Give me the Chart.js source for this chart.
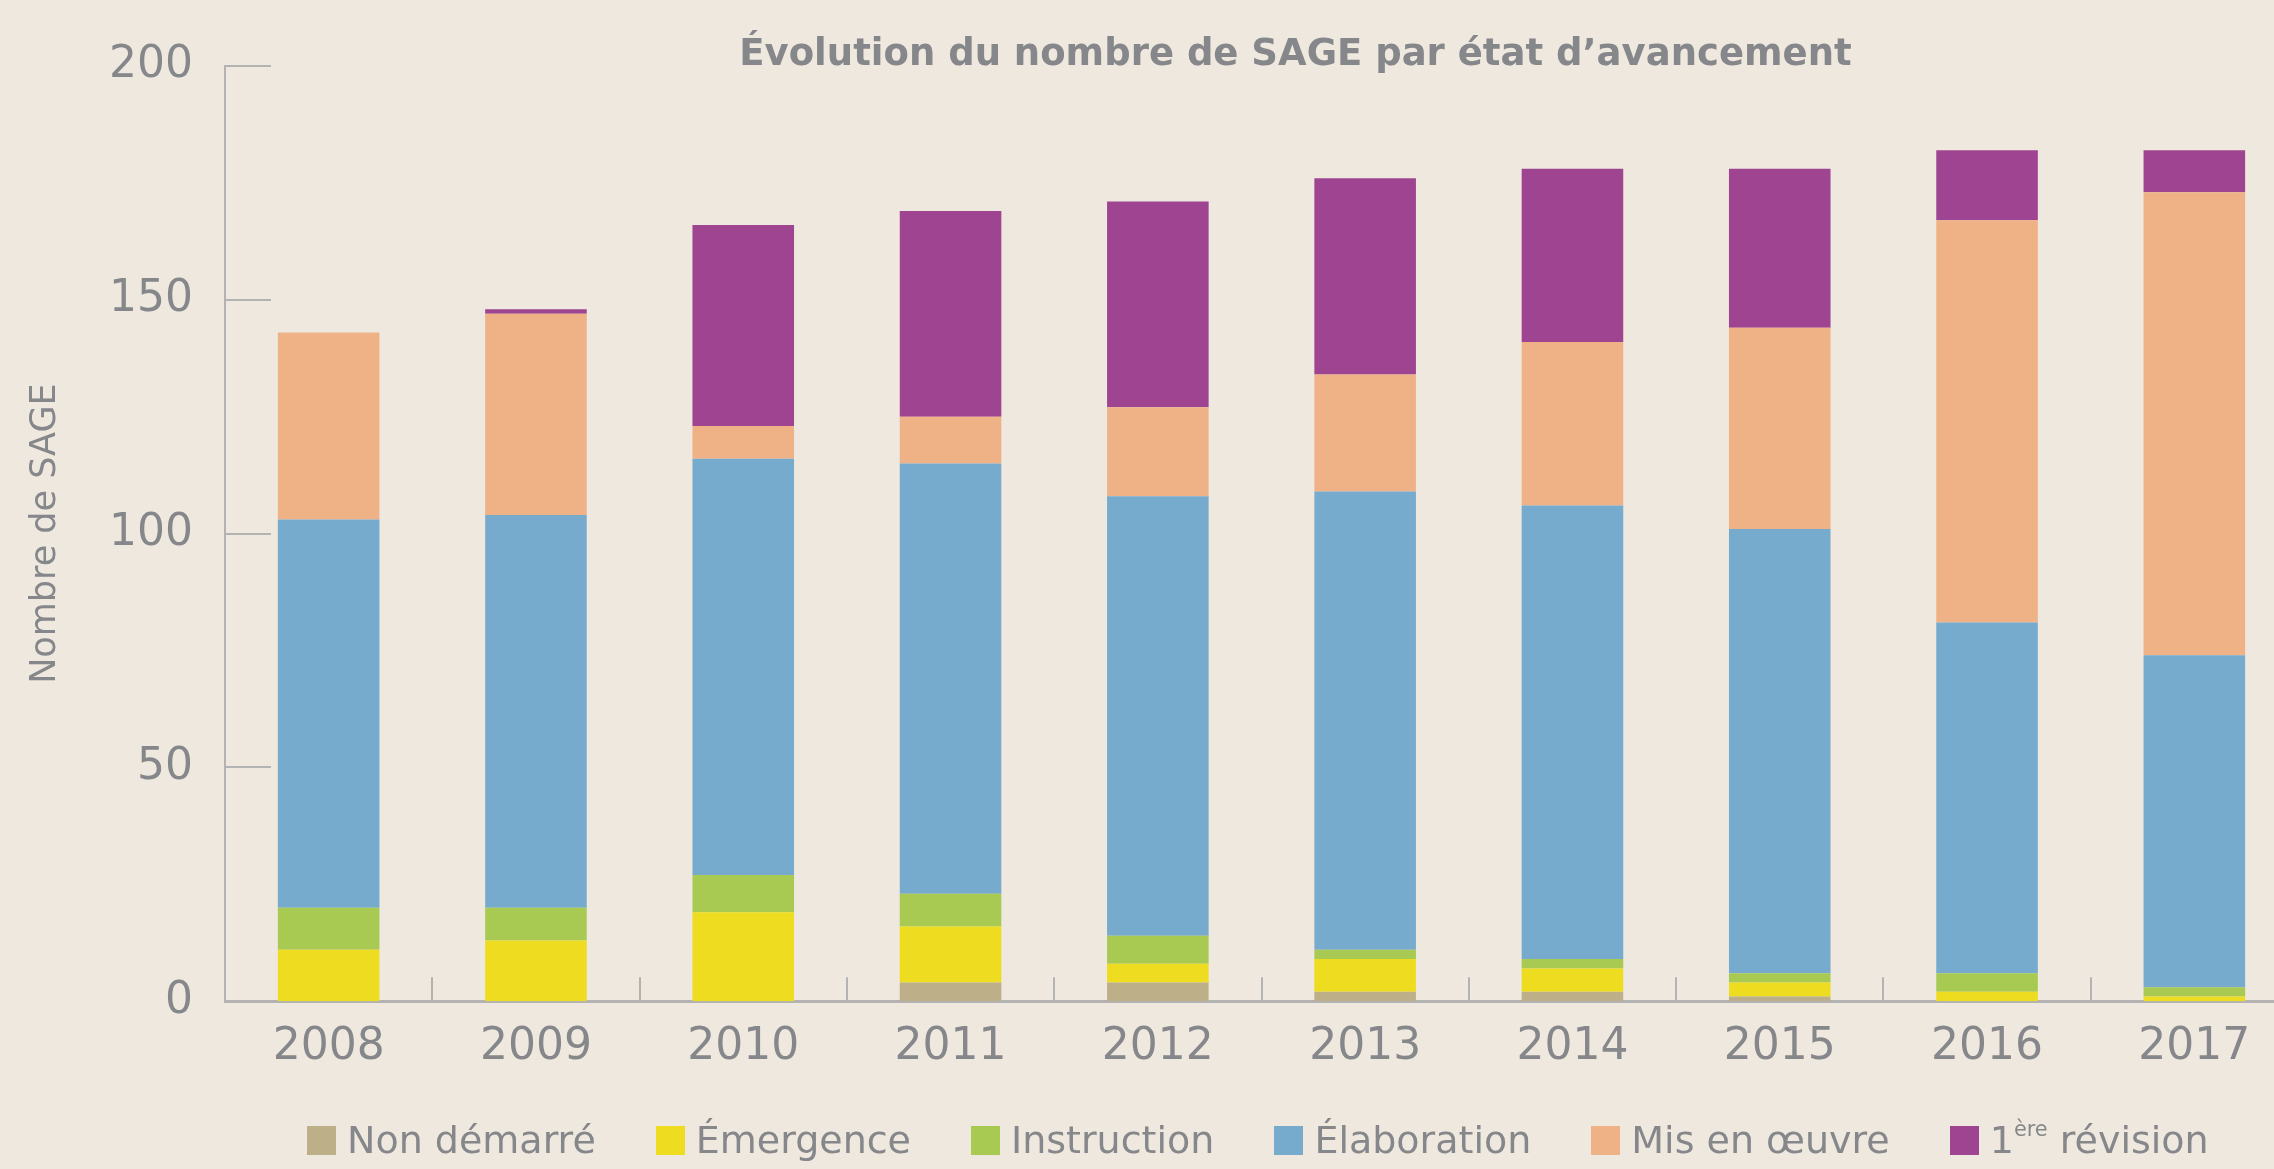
<!DOCTYPE html>
<html>
<head>
<meta charset="utf-8">
<script src="https://cdn.jsdelivr.net/npm/chart.js@4.4.1/dist/chart.umd.min.js"></script>
<style>
html, body { margin: 0; padding: 0; overflow: hidden; background: #efe8df; width: 2274px; height: 1169px; }
#wrap { position: relative; width: 2274px; height: 1169px; overflow: hidden; }
#chart { position: absolute; left: 0; top: 0; }
#legend { position: absolute; left: 307px; top: 1118px; display: flex; gap: 60px; font-family: "DejaVu Sans"; font-size: 38px; color: #85878a; white-space: nowrap; }
#legend .item { display: flex; align-items: center; }
#legend .box { width: 29px; height: 29px; margin-right: 11px; }
#legend sup { font-size: 55%; vertical-align: 0.8em; line-height: 0; }
</style>
</head>
<body>
<div id="wrap">
  <canvas id="chart" width="2300" height="1169"></canvas>
  <div id="legend"></div>
</div>
<script>
// categories
var years = ['2008', '2009', '2010', '2011', '2012', '2013', '2014', '2015', '2016', '2017'];

// number of SAGE per state, stacked bottom to top
var nonDemarre  = [0, 0, 0, 4, 4, 2, 2, 1, 0, 0];
var emergence   = [11, 13, 19, 12, 4, 7, 5, 3, 2, 1];
var instruction = [9, 7, 8, 7, 6, 2, 2, 2, 4, 2];
var elaboration = [83, 84, 89, 92, 94, 98, 97, 95, 75, 71];
var misEnOeuvre = [40, 43, 7, 10, 19, 25, 35, 43, 86, 99];
var revision    = [0, 1, 43, 44, 44, 42, 37, 34, 15, 9];

var seriesNames  = ['Non démarré', 'Émergence', 'Instruction', 'Élaboration', 'Mis en œuvre', '1ère révision'];
var seriesData   = [nonDemarre, emergence, instruction, elaboration, misEnOeuvre, revision];
var seriesColors = ['#bdb088', '#eedc20', '#a8ca52', '#76abce', '#efb287', '#9e4491'];

var yTicks = [0, 50, 100, 150, 200];

var chartTitle = 'Évolution du nombre de SAGE par état d’avancement';
var yTitle = 'Nombre de SAGE';

var textColor = '#85878a';
var axisColor = '#b3b3b3';

var datasets = seriesNames.map(function (name, i) {
    return {
        label: name,
        data: seriesData[i],
        backgroundColor: seriesColors[i],
        borderWidth: 0,
        barPercentage: 0.49,
        categoryPercentage: 1.0,
        stack: 'sage'
    };
});

// short inner tick marks + title
var decorations = {
    id: 'decorations',
    afterDraw: function (chart) {
        var ctx = chart.ctx;
        var area = chart.chartArea;
        var x = chart.scales.x;
        var y = chart.scales.y;
        ctx.save();
        ctx.strokeStyle = axisColor;
        ctx.lineWidth = 2;
        yTicks.forEach(function (v) {
            if (v === 0) return;
            var py = Math.round(y.getPixelForValue(v));
            ctx.beginPath();
            ctx.moveTo(area.left, py);
            ctx.lineTo(area.left + 46, py);
            ctx.stroke();
        });
        var step = x.getPixelForValue(1) - x.getPixelForValue(0);
        for (var i = 0; i < years.length; i++) {
            var px = Math.round(x.getPixelForValue(i) + step / 2);
            ctx.beginPath();
            ctx.moveTo(px, area.bottom);
            ctx.lineTo(px, area.bottom - 24);
            ctx.stroke();
        }
        ctx.fillStyle = textColor;
        ctx.font = 'bold 37px "DejaVu Sans"';
        ctx.textAlign = 'center';
        ctx.textBaseline = 'alphabetic';
        ctx.fillText(chartTitle, (area.left + area.right) / 2 + 34, 65);
        ctx.restore();
    }
};

var chart = new Chart(document.getElementById('chart'), {
    type: 'bar',
    data: {
        labels: years,
        datasets: datasets
    },
    options: {
        animation: false,
        responsive: false,
        devicePixelRatio: 1,
        layout: {
            padding: { top: 66, right: 2, bottom: 75, left: 0 }
        },
        plugins: {
            legend: { display: false },
            title: { display: false },
            tooltip: { enabled: false }
        },
        scales: {
            x: {
                stacked: true,
                grid: { display: false, drawTicks: false },
                border: { display: true, color: axisColor, width: 3 },
                ticks: {
                    color: textColor,
                    font: { family: 'DejaVu Sans', size: 44 },
                    padding: 20
                }
            },
            y: {
                stacked: true,
                min: 0,
                max: 200,
                afterBuildTicks: function (scale) {
                    scale.ticks = yTicks.map(function (v) { return { value: v }; });
                },
                afterFit: function (scale) { scale.width = 225; },
                grid: { display: false, drawTicks: false },
                border: { display: true, color: axisColor, width: 2 },
                ticks: {
                    color: textColor,
                    font: { family: 'DejaVu Sans', size: 44 },
                    padding: 32
                },
                title: {
                    display: true,
                    text: yTitle,
                    color: textColor,
                    font: { family: 'DejaVu Sans', size: 35 },
                    padding: { top: 25, bottom: 0 }
                }
            }
        }
    },
    plugins: [{
        id: 'bg',
        beforeDraw: function (chart) {
            var ctx = chart.ctx;
            ctx.save();
            ctx.fillStyle = '#efe8df';
            ctx.fillRect(0, 0, chart.width, chart.height);
            ctx.restore();
        }
    }, decorations]
});

// HTML legend so the "ère" can be a superscript
var legendEl = document.getElementById('legend');
chart.data.datasets.forEach(function (ds) {
    var item = document.createElement('div');
    item.className = 'item';
    var box = document.createElement('span');
    box.className = 'box';
    box.style.background = ds.backgroundColor;
    var label = document.createElement('span');
    label.innerHTML = ds.label.replace(/^1ère/, '1<sup>ère</sup>');
    item.appendChild(box);
    item.appendChild(label);
    legendEl.appendChild(item);
});
</script>
</body>
</html>
